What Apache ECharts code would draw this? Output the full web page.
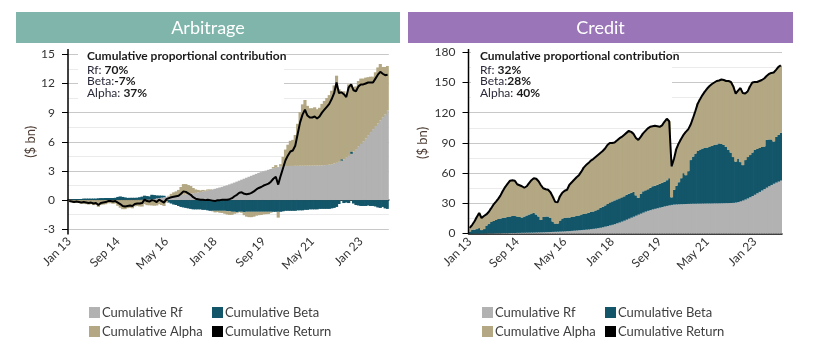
<!DOCTYPE html>
<html>
<head>
<meta charset="utf-8">
<script src="https://cdn.jsdelivr.net/npm/echarts@6/dist/echarts.min.js"></script>
<style>
  html, body { margin: 0; padding: 0; background: #fff; }
  #wrap { position: relative; width: 816px; height: 350px; }
  .panel { position: absolute; top: 0; width: 408px; height: 350px; }
</style>
</head>
<body>
<div id="wrap">
  <div class="panel" id="arb" style="left:0"></div>
  <div class="panel" id="cred" style="left:408px"></div>
</div>
<script>
// month categories Jan 13 .. Dec 23
const MONTH_NAMES = ['Jan', 'Feb', 'Mar', 'Apr', 'May', 'Jun', 'Jul', 'Aug', 'Sep', 'Oct', 'Nov', 'Dec']
const YEARS = [13, 14, 15, 16, 17, 18, 19, 20, 21, 22, 23]
const months = []
YEARS.forEach(y => MONTH_NAMES.forEach(m => months.push(m + ' ' + y)))

const seriesNames = ['Cumulative Rf', 'Cumulative Beta', 'Cumulative Alpha', 'Cumulative Return']

// Arbitrage ($ bn)
const arbRf = [
  0, 0, 0, 0, 0, 0, 0.01, 0.01, 0.01, 0.01, 0.01, 0.01,
  0.01, 0.01, 0.01, 0.02, 0.02, 0.02, 0.02, 0.02, 0.03, 0.03, 0.03, 0.03,
  0.03, 0.04, 0.04, 0.04, 0.05, 0.05, 0.06, 0.06, 0.07, 0.08, 0.1, 0.12,
  0.18, 0.22, 0.26, 0.3, 0.34, 0.37, 0.4, 0.43, 0.46, 0.5, 0.53, 0.56,
  0.6, 0.63, 0.67, 0.71, 0.75, 0.79, 0.84, 0.88, 0.93, 0.98, 1.04, 1.1,
  1.16, 1.23, 1.3, 1.37, 1.45, 1.53, 1.62, 1.71, 1.8, 1.9, 2.0, 2.1,
  2.2, 2.3, 2.4, 2.5, 2.6, 2.7, 2.8, 2.88, 2.96, 3.04, 3.12, 3.2,
  3.28, 3.34, 3.4, 3.44, 3.48, 3.5, 3.51, 3.52, 3.52, 3.53, 3.53, 3.54,
  3.54, 3.54, 3.55, 3.55, 3.55, 3.56, 3.56, 3.57, 3.58, 3.6, 3.62, 3.65,
  3.7, 3.76, 3.84, 3.94, 4.06, 4.2, 4.36, 4.55, 4.76, 5.0, 5.25, 5.5,
  5.78, 6.06, 6.36, 6.68, 7.0, 7.3, 7.62, 7.9, 8.2, 8.5, 8.8, 9.2
]
const arbBeta = [
  0.02, 0.05, 0.1, 0.1, 0.1, 0.12, 0.15, 0.15, 0.15, 0.15, 0.15, 0.15,
  0.18, 0.2, 0.2, 0.2, 0.2, 0.2, 0.2, 0.22, 0.3, 0.35, 0.3, 0.25,
  0.2, 0.2, 0.2, 0.2, 0.2, 0.25, 0.3, 0.4, 0.35, 0.3, 0.45, 0.4,
  0.3, 0.25, 0.2, 0.15, -0.1, -0.25, -0.35, -0.45, -0.5, -0.6, -0.7, -0.75,
  -0.8, -0.85, -0.9, -0.95, -0.95, -0.95, -0.95, -1.0, -1.0, -1.05, -1.1, -1.1,
  -1.1, -1.1, -1.1, -1.1, -1.1, -1.15, -1.15, -1.2, -1.2, -1.25, -1.2, -1.2,
  -1.25, -1.2, -1.2, -1.2, -1.2, -1.2, -1.2, -1.2, -1.2, -1.2, -1.2, -1.2,
  -1.2, -1.2, -1.2, -1.2, -1.15, -1.1, -1.1, -1.1, -1.1, -1.1, -1.05, -1.05,
  -1.05, -1.0, -1.0, -0.95, -0.95, -0.95, -0.95, -0.9, -0.9, -0.9, -0.9, -0.9,
  -0.85, -0.8, -0.7, -0.4, 0.15, -0.3, -0.25, -0.3, 0.25, -0.35, -0.5, -0.55,
  -0.6, -0.6, -0.6, -0.55, -0.6, -0.6, -0.65, -0.75, -0.8, -0.7, -0.85, -0.9
]
const arbAlpha = [
  -0.12, -0.2, -0.3, -0.25, -0.3, -0.37, -0.36, -0.41, -0.46, -0.41, -0.51, -0.46,
  -0.69, -0.51, -0.46, -0.42, -0.32, -0.32, -0.37, -0.34, -0.58, -0.78, -0.93, -0.93,
  -0.83, -0.79, -0.84, -0.64, -0.6, -0.65, -0.66, -0.41, -0.52, -0.53, -0.55, -0.57,
  -0.55, -0.42, -0.5, -0.6, -0.14, 0.08, 0.25, 0.37, 0.44, 0.55, 0.82, 1.09,
  1.05, 0.92, 0.78, 0.54, 0.35, 0.26, 0.16, 0.17, 0.07, 0.12, 0.06, -0.05,
  -0.16, -0.13, -0.2, -0.22, -0.3, -0.33, -0.37, -0.31, -0.2, -0.1, -0.05, -0.1,
  -0.3, -0.5, -0.55, -0.55, -0.5, -0.4, -0.35, -0.33, -0.26, -0.24, -0.22, -0.1,
  0.12, 0.26, -0.6, 0.26, 0.97, 1.7, 2.19, 2.58, 2.68, 3.17, 4.32, 5.51,
  6.31, 6.76, 6.15, 5.9, 5.9, 5.99, 5.79, 5.93, 6.32, 6.6, 6.88, 7.15,
  7.55, 8.04, 8.96, 7.46, 6.89, 7.0, 6.49, 7.35, 6.89, 6.65, 6.45, 6.75,
  6.72, 6.44, 6.24, 5.97, 5.7, 5.4, 5.53, 5.75, 5.8, 5.2, 4.9, 4.6
]
const arbReturn = [
  -0.1, -0.15, -0.2, -0.15, -0.2, -0.25, -0.2, -0.25, -0.3, -0.25, -0.35, -0.3,
  -0.5, -0.3, -0.25, -0.2, -0.1, -0.1, -0.15, -0.1, -0.25, -0.4, -0.6, -0.65,
  -0.6, -0.55, -0.6, -0.4, -0.35, -0.35, -0.3, 0.05, -0.1, -0.15, 0.0, -0.05,
  -0.2, 0.05, -0.1, -0.25, 0.1, 0.2, 0.3, 0.35, 0.4, 0.45, 0.65, 0.9,
  0.85, 0.7, 0.55, 0.3, 0.15, 0.1, 0.05, 0.05, 0.0, 0.05, 0.0, -0.05,
  -0.1, 0.0, 0.0, 0.05, 0.05, 0.05, 0.1, 0.2, 0.4, 0.55, 0.75, 0.8,
  0.65, 0.6, 0.65, 0.75, 0.9, 1.1, 1.25, 1.35, 1.5, 1.6, 1.7, 1.9,
  2.2, 2.4, 1.6, 2.5, 3.3, 4.1, 4.6, 5.0, 5.1, 5.6, 6.8, 8.0,
  8.8, 9.3, 8.7, 8.5, 8.5, 8.6, 8.4, 8.6, 9.0, 9.3, 9.6, 9.9,
  10.4, 11.0, 12.1, 11.0, 11.1, 10.9, 10.6, 11.6, 11.9, 11.3, 11.2, 11.7,
  11.9, 11.9, 12.0, 12.1, 12.1, 12.1, 12.5, 12.9, 13.2, 13.0, 12.85, 12.9
]

// Credit ($ bn)
const credRf = [
  0, 0, 0.1, 0.1, 0.1, 0.2, 0.2, 0.2, 0.3, 0.3, 0.3, 0.4,
  0.4, 0.4, 0.5, 0.5, 0.5, 0.6, 0.6, 0.6, 0.7, 0.7, 0.8, 0.8,
  0.9, 0.9, 1.0, 1.0, 1.1, 1.2, 1.2, 1.3, 1.4, 1.5, 1.6, 1.7,
  1.8, 1.9, 2.0, 2.1, 2.2, 2.4, 2.5, 2.7, 2.9, 3.1, 3.3, 3.5,
  3.7, 3.9, 4.1, 4.4, 4.7, 5.0, 5.4, 5.8, 6.3, 6.9, 7.5, 8.1,
  8.7, 9.4, 10.2, 11.0, 11.9, 12.8, 13.8, 14.8, 15.8, 16.8, 17.8, 18.8,
  19.8, 20.8, 21.8, 22.6, 23.3, 24.0, 24.6, 25.2, 25.8, 26.4, 27.0, 27.5,
  28.0, 28.5, 28.8, 29.0, 29.1, 29.2, 29.3, 29.4, 29.5, 29.6, 29.7, 29.7,
  29.8, 29.8, 29.9, 29.9, 30.0, 30.0, 30.0, 30.1, 30.1, 30.1, 30.2, 30.2,
  30.3, 30.3, 30.4, 30.5, 30.8, 31.3, 32.0, 32.8, 33.8, 34.9, 36.1, 37.3,
  38.6, 40.0, 41.4, 42.8, 44.2, 45.6, 47.0, 48.3, 49.5, 50.6, 51.6, 52.6
]
const credBeta = [
  2.0, 4.0, 3.9, 4.4, 5.4, 3.3, 4.3, 7.8, 9.2, 11.2, 12.2, 13.1,
  14.1, 14.6, 15.0, 15.5, 16.0, 16.4, 16.9, 16.9, 16.3, 15.8, 15.2, 16.2,
  17.1, 18.1, 19.0, 19.5, 17.9, 15.8, 12.3, 15.2, 15.6, 15.5, 13.9, 10.3,
  8.2, 8.1, 11.0, 12.9, 13.3, 13.6, 13.5, 13.8, 14.1, 14.4, 14.7, 15.5,
  15.8, 16.1, 16.4, 17.1, 17.3, 18.0, 18.6, 19.7, 20.2, 21.1, 22.0, 22.9,
  23.3, 23.6, 23.8, 24.0, 24.1, 24.2, 24.7, 24.7, 24.7, 24.7, 20.2, 16.7,
  19.7, 21.2, 21.2, 21.4, 22.2, 23.0, 22.9, 23.3, 23.7, 24.1, 24.5, 25.5,
  27.0, 7.5, 14.7, 18.5, 21.9, 25.8, 30.7, 28.6, 32.5, 43.4, 46.8, 49.8,
  52.2, 53.7, 54.6, 55.1, 55.5, 56.5, 57.0, 57.9, 58.4, 59.4, 58.8, 57.8,
  55.7, 52.7, 50.1, 45.5, 40.7, 43.2, 39.0, 35.2, 39.2, 41.1, 41.9, 43.2,
  44.4, 44.0, 43.6, 43.2, 42.3, 47.4, 46.5, 45.2, 42.0, 45.4, 46.4, 47.4
]
const credAlpha = [
  3.6, 4.5, 8, 12, 15, 12, 13, 11, 12, 13.5, 16.2, 18,
  20, 23, 27, 30.5, 33, 35.5, 35.5, 35, 32, 31.5, 31, 28.5,
  29, 31, 33, 34.5, 35.5, 35, 34.5, 28.5, 27, 26.5, 25.5, 24.5,
  21.5, 21, 24, 25.5, 27, 27.5, 32.5, 34.5, 36.5, 38.5, 40, 42.5,
  46, 48, 49.5, 51, 52, 53, 54, 54.5, 55.5, 56.5, 58.5, 59,
  58, 57.5, 58.5, 59.5, 60, 61, 61.5, 62.5, 60.5, 57.5, 57, 57.5,
  56.5, 57.5, 59, 60.5, 60.5, 59.5, 59.5, 58, 56.5, 57, 59.5, 61,
  56.5, 30.6, 30.5, 36.5, 38.5, 39, 38, 43, 41.5, 35, 38, 42,
  47, 50, 53, 56, 58.5, 60, 61.5, 62, 63, 62.5, 64, 64.5,
  65.5, 68.5, 70, 70, 67.5, 67.5, 73.5, 71.5, 66, 65, 68, 69.5,
  67.5, 66.5, 66.5, 66.5, 67.5, 63.5, 65, 66, 68.5, 66.5, 67.5, 67
]
const credReturn = [
  5.6, 8.5, 12, 16.5, 20.5, 15.5, 17.5, 19, 21.5, 25, 28.7, 31.5,
  34.5, 38, 42.5, 46.5, 49.5, 52.5, 53, 52.5, 49, 48, 47, 45.5,
  47, 50, 53, 55, 54.5, 52, 48, 45, 44, 43.5, 41, 36.5,
  31.5, 31, 37, 40.5, 42.5, 43.5, 48.5, 51, 53.5, 56, 58, 61.5,
  65.5, 68, 70, 72.5, 74, 76, 78, 80, 82, 84.5, 88, 90,
  90, 90.5, 92.5, 94.5, 96, 98, 100, 102, 101, 99, 95, 93,
  96, 99.5, 102, 104.5, 106, 106.5, 107, 106.5, 106, 107.5, 111, 114,
  111.5, 66.6, 74, 84, 89.5, 94, 98, 101, 103.5, 108, 114.5, 121.5,
  129, 133.5, 137.5, 141, 144, 146.5, 148.5, 150, 151.5, 152, 153, 152.5,
  151.5, 151.5, 150.5, 146, 139, 142, 144.5, 139.5, 139, 141, 146, 150,
  150.5, 150.5, 151.5, 152.5, 154, 156.5, 158.5, 159.5, 160, 162.5, 165.5, 167
]

const FONT = 'Lato, "Open Sans", sans-serif'
const COLORS = { rf: '#b2b2b2', beta: '#13566a', alpha: '#b3a883', ret: '#000000' }

function buildOption(p) {
  const legendBase = {
    orient: 'vertical', top: 301, icon: 'rect', itemWidth: 11, itemHeight: 11, itemGap: 6,
    selectedMode: false,
    textStyle: { fontFamily: FONT, fontSize: 13, color: '#3d3d3d', padding: [0, 0, 0, -3] }
  }
  // negative gap: each month's bar overlaps its neighbour a little, so no seams show
  const bar = (name, data, color) => ({
    name, type: 'bar', stack: 'total', data, barCategoryGap: '-30%',
    itemStyle: { color }
  })
  return {
    animation: false,
    textStyle: { fontFamily: FONT },
    graphic: [
      // header bar
      { type: 'rect', shape: { x: p.headX, y: 12, width: p.headW, height: 31 }, style: { fill: p.headColor } },
      {
        type: 'text', x: p.headX + p.headW / 2, y: 28,
        style: { text: p.title, fill: '#fff', font: '18px ' + FONT, align: 'center', verticalAlign: 'middle' }
      },
      // white box behind the note
      { type: 'rect', z: 50, shape: { x: p.noteX - 9, y: 47, width: p.noteW, height: 57 }, style: { fill: '#fff' } },
      {
        type: 'text', z: 51, x: p.noteX, y: 49,
        style: {
          text: '{t|Cumulative proportional contribution}\n' +
            '{n|Rf: }{b|' + p.share[0] + '}\n{n|Beta:}{b|' + p.share[1] + '}\n{n|Alpha: }{b|' + p.share[2] + '}',
          rich: {
            t: { fontFamily: FONT, fontSize: 12, fontWeight: 'bold', fill: '#1a1a1a', lineHeight: 15 },
            n: { fontFamily: FONT, fontSize: 12, fill: '#2a2a3a', lineHeight: 11.5 },
            b: { fontFamily: FONT, fontSize: 12, fontWeight: 'bold', fill: '#1a1a1a', lineHeight: 11.5 }
          }
        }
      },
      // y axis line (runs a little past the top tick and down to the x axis)
      {
        type: 'line', z: 60,
        shape: { x1: p.left, y1: 49, x2: p.left, y2: p.axisBottom },
        style: { stroke: '#000', lineWidth: 1.5 }
      }
    ],
    legend: [
      Object.assign({ left: p.legendX[0], data: ['Cumulative Rf', 'Cumulative Alpha'] }, legendBase),
      Object.assign({ left: p.legendX[1], data: ['Cumulative Beta', 'Cumulative Return'] }, legendBase)
    ],
    grid: { left: p.left, top: p.top, width: p.width, height: p.height },
    xAxis: {
      type: 'category',
      data: months,
      offset: p.xOffset,
      boundaryGap: true,
      axisLine: { lineStyle: { color: '#000', width: 1.5 } },
      axisTick: { alignWithLabel: true, length: 5, interval: 19, lineStyle: { color: '#000' } },
      axisLabel: { interval: 19, rotate: 45, fontSize: 12, color: '#333', margin: 6 },
      splitLine: { show: false }
    },
    yAxis: {
      type: 'value',
      min: p.yMin, max: p.yMax, interval: p.yStep,
      name: '($ bn)', nameLocation: 'middle', nameGap: p.nameGap, nameMoveOverlap: false,
      nameTextStyle: { color: '#4e3e35', fontSize: 13 },
      axisLine: { show: false },
      axisTick: { show: true, length: 6, lineStyle: { color: '#000' } },
      axisLabel: { fontSize: 12, color: '#333', margin: 13 },
      splitLine: { lineStyle: { color: '#c8c8c8' } },
      minorTick: { show: false, splitNumber: 2 },
      minorSplitLine: { show: true, lineStyle: { color: '#ebebeb' } }
    },
    series: [
      bar(seriesNames[0], p.rf, COLORS.rf),
      bar(seriesNames[1], p.beta, COLORS.beta),
      bar(seriesNames[2], p.alpha, COLORS.alpha),
      {
        name: seriesNames[3], type: 'line', data: p.ret, symbol: 'none', z: 5,
        lineStyle: { color: COLORS.ret, width: 2 }, itemStyle: { color: COLORS.ret }
      }
    ]
  }
}

const arbChart = echarts.init(document.getElementById('arb'))
arbChart.setOption(buildOption({
  title: 'Arbitrage', headX: 16, headW: 384, headColor: '#7fb5aa',
  noteX: 87, noteW: 206, share: ['70%', '-7%', '37%'],
  left: 68, top: 54.3, width: 320.8, height: 175, axisBottom: 234.5, xOffset: 4,
  yMin: -3, yMax: 15, yStep: 3, nameGap: 31,
  legendX: [84, 207],
  rf: arbRf, beta: arbBeta, alpha: arbAlpha, ret: arbReturn
}))

const credChart = echarts.init(document.getElementById('cred'))
credChart.setOption(buildOption({
  title: 'Credit', headX: 0, headW: 385, headColor: '#9a75b8',
  noteX: 72, noteW: 201, share: ['32%', '28%', '40%'],
  left: 60.5, top: 52.3, width: 313.5, height: 181.3, axisBottom: 233.6, xOffset: 0,
  yMin: 0, yMax: 180, yStep: 30, nameGap: 39,
  legendX: [69, 192],
  rf: credRf, beta: credBeta, alpha: credAlpha, ret: credReturn
}))

window.addEventListener('resize', () => {
  arbChart.resize()
  credChart.resize()
})
</script>
</body>
</html>
